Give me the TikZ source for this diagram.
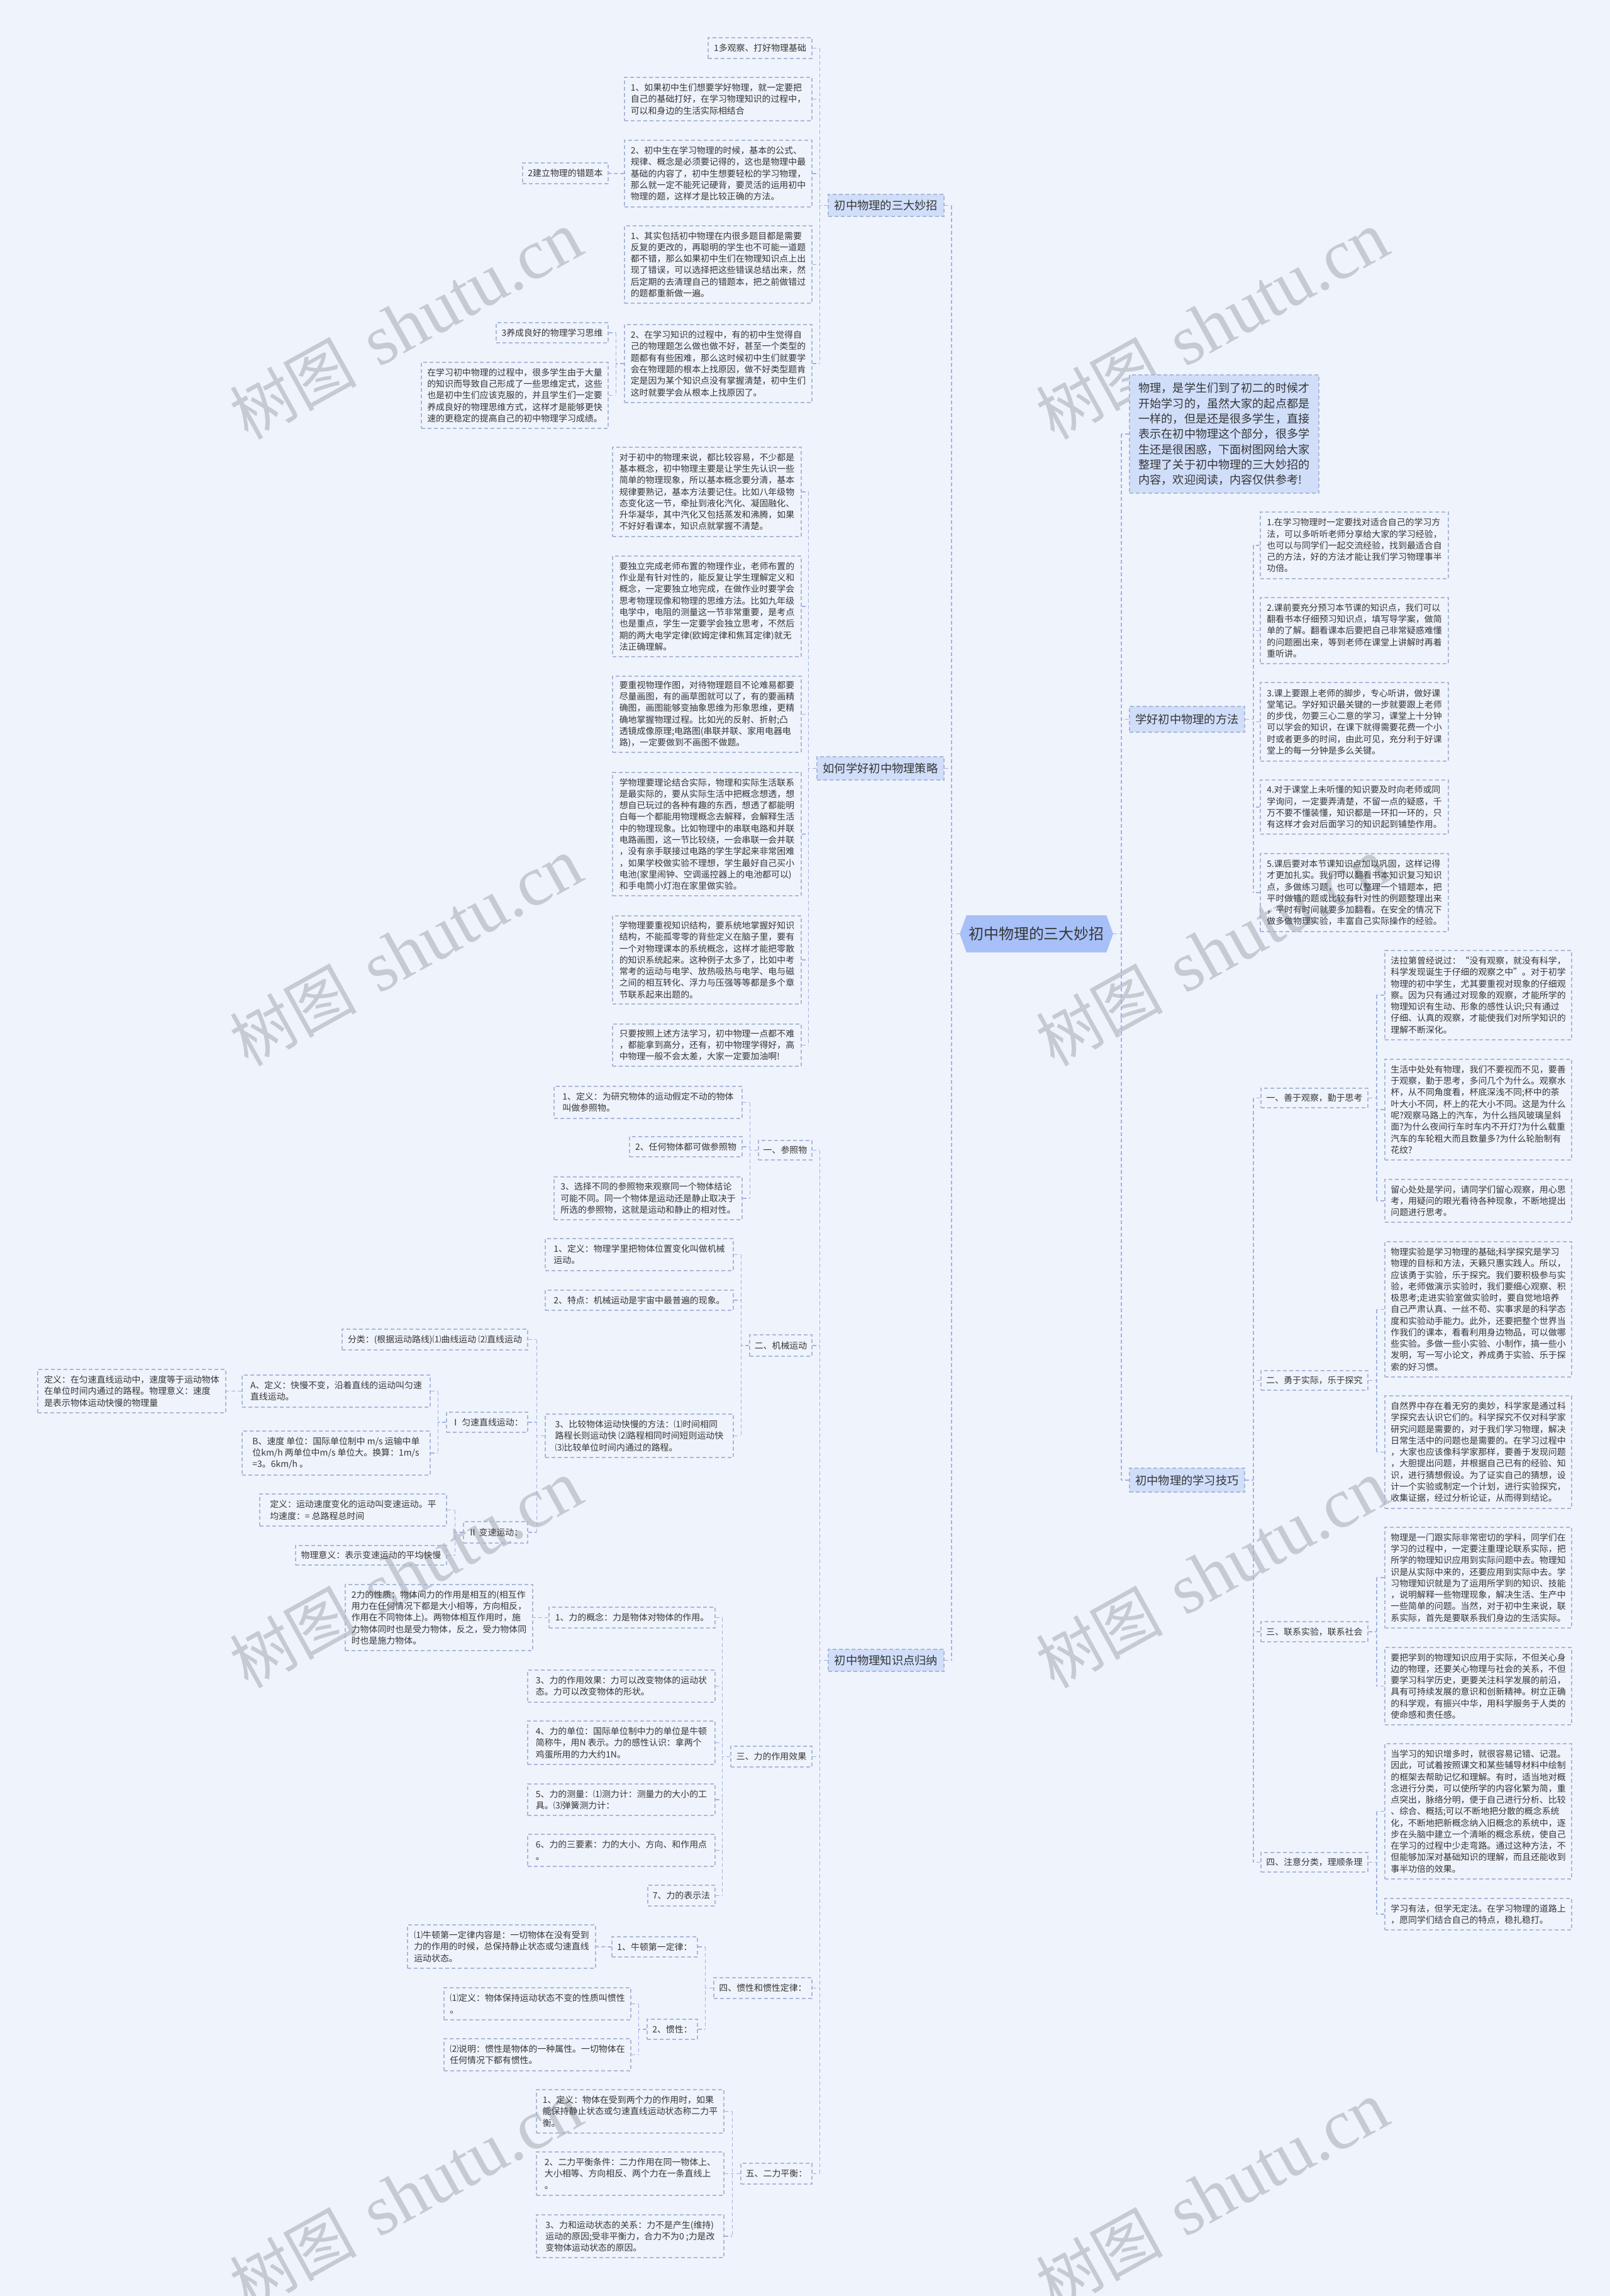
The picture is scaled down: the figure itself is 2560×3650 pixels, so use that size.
\documentclass[tikz,border=0pt]{standalone}
\usepackage{fontspec}
\newfontfamily\cjk{Noto Sans CJK SC}
\newfontfamily\wmserif{Liberation Serif}
\usetikzlibrary{shapes.symbols}

\definecolor{bgcol}{HTML}{EFF3FC}
\definecolor{boxline}{HTML}{AAB8D8}
\definecolor{linkcol}{HTML}{A0B3E6}
\definecolor{branchfill}{HTML}{D0DEFA}
\definecolor{rootfill}{HTML}{A8C0F8}
\definecolor{ink}{HTML}{363636}
\definecolor{wmgray}{HTML}{C6CAD2}

\tikzset{
  cell/.style n args={4}{at={({(#1+#3)/2},{(#2+#4)/2})},
    minimum width={(#3-#1)*0.25mm}, minimum height={(#4-#2)*0.25mm}},
  leaf/.style={draw=boxline, line width=0.3mm, dash pattern=on 1.5mm off 1mm,
    align=left, inner xsep=1.6mm, inner ysep=0.8mm, text=ink,
    font=\cjk\fontsize{9.9}{13}\selectfont},
  branch/.style={leaf, fill=branchfill, font=\cjk\fontsize{13}{16}\selectfont},
  intro/.style={leaf, fill=branchfill, font=\cjk\fontsize{12.9}{17.3}\selectfont},
  root/.style={signal, signal to=west and east, signal pointer angle=140,
    fill=rootfill, text=ink, inner sep=0pt, font=\cjk\fontsize{17}{20}\selectfont},
  link/.style={draw=linkcol, line width=0.45mm, dash pattern=on 1.5mm off 1mm},
  wm/.style={text=wmgray, rotate=29, inner sep=0pt}
}

\begin{document}
\begin{tikzpicture}[x=0.25mm, y=-0.25mm]
    \useasboundingbox (0,0) rectangle (2560,3650);
    \fill[bgcol] (0,0) rectangle (2560,3650);

    % Watermarks
    \foreach \wx/\wy [count=\i] in {645/517, 1927/517, 645/1513, 1927/1513,
                                    645/2502, 1927/2502, 645/3490, 1927/3490} {
        \node[wm] (wm\i) at (\wx,\wy) {{\cjk\fontsize{72}{74}\selectfont 树图}\hspace{9mm}{\wmserif\fontsize{80}{82}\selectfont shutu.cn}};
    }

    % Root
    \node[root, cell={1526}{1455}{1770}{1514}] (root) {初中物理的三大妙招};

    % Branch: 初中物理的三大妙招
    \node[branch, cell={1317}{309}{1501}{344}] (bA) {初中物理的三大妙招};
    \node[leaf, cell={1126}{60}{1291}{93}] (a1) {1多观察、打好物理基础};
    \node[leaf, cell={993}{123}{1291}{192}] (a2) {1、如果初中生们想要学好物理，就一定要把\\自己的基础打好，在学习物理知识的过程中，\\可以和身边的生活实际相结合};
    \node[leaf, cell={993}{223}{1291}{329}] (a3) {2、初中生在学习物理的时候，基本的公式、\\规律、概念是必须要记得的，这也是物理中最\\基础的内容了，初中生想要轻松的学习物理，\\那么就一定不能死记硬背，要灵活的运用初中\\物理的题，这样才是比较正确的方法。};
    \node[leaf, cell={831}{259}{967}{292}] (a31) {2建立物理的错题本};
    \node[leaf, cell={993}{359}{1291}{482}] (a4) {1、其实包括初中物理在内很多题目都是需要\\反复的更改的，再聪明的学生也不可能一道题\\都不错，那么如果初中生们在物理知识点上出\\现了错误，可以选择把这些错误总结出来，然\\后定期的去清理自己的错题本，把之前做错过\\的题都重新做一遍。};
    \node[leaf, cell={993}{516}{1291}{640}] (a5) {2、在学习知识的过程中，有的初中生觉得自\\己的物理题怎么做也做不好，甚至一个类型的\\题都有有些困难，那么这时候初中生们就要学\\会在物理题的根本上找原因，做不好类型题肯\\定是因为某个知识点没有掌握清楚，初中生们\\这时就要学会从根本上找原因了。};
    \node[leaf, cell={789}{513}{967}{545}] (a51) {3养成良好的物理学习思维};
    \node[leaf, cell={670}{576}{967}{681}] (a52) {在学习初中物理的过程中，很多学生由于大量\\的知识而导致自己形成了一些思维定式，这些\\也是初中生们应该克服的，并且学生们一定要\\养成良好的物理思维方式，这样才是能够更快\\速的更稳定的提高自己的初中物理学习成绩。};

    % Branch: 如何学好初中物理策略
    \node[branch, cell={1299}{1203}{1501}{1240}] (bB) {如何学好初中物理策略};
    \node[leaf, cell={974}{711}{1274}{853}] (b1) {对于初中的物理来说，都比较容易，不少都是\\基本概念，初中物理主要是让学生先认识一些\\简单的物理现象，所以基本概念要分清，基本\\规律要熟记，基本方法要记住。比如八年级物\\态变化这一节，牵扯到液化汽化、凝固融化、\\升华凝华，其中汽化又包括蒸发和沸腾，如果\\不好好看课本，知识点就掌握不清楚。};
    \node[leaf, cell={974}{884}{1274}{1044}] (b2) {要独立完成老师布置的物理作业，老师布置的\\作业是有针对性的，能反复让学生理解定义和\\概念，一定要独立地完成，在做作业时要学会\\思考物理现像和物理的思维方法。比如九年级\\电学中，电阻的测量这一节非常重要，是考点\\也是重点，学生一定要学会独立思考，不然后\\期的两大电学定律(欧姆定律和焦耳定律)就无\\法正确理解。};
    \node[leaf, cell={974}{1075}{1274}{1196}] (b3) {要重视物理作图，对待物理题目不论难易都要\\尽量画图，有的画草图就可以了，有的要画精\\确图，画图能够变抽象思维为形象思维，更精\\确地掌握物理过程。比如光的反射、折射;凸\\透镜成像原理;电路图(串联并联、家用电器电\\路)，一定要做到不画图不做题。};
    \node[leaf, cell={974}{1228}{1274}{1424}] (b4) {学物理要理论结合实际，物理和实际生活联系\\是最实际的，要从实际生活中把概念想透，想\\想自已玩过的各种有趣的东西，想透了都能明\\白每一个都能用物理概念去解释，会解释生活\\中的物理现象。比如物理中的串联电路和并联\\电路画图，这一节比较绕，一会串联一会并联\\，没有亲手联接过电路的学生学起来非常困难\\，如果学校做实验不理想，学生最好自己买小\\电池(家里闹钟、空调遥控器上的电池都可以)\\和手电筒小灯泡在家里做实验。};
    \node[leaf, cell={974}{1456}{1274}{1596}] (b5) {学物理要重视知识结构，要系统地掌握好知识\\结构，不能孤零零的背些定义在脑子里，要有\\一个对物理课本的系统概念，这样才能把零散\\的知识系统起来。这种例子太多了，比如中考\\常考的运动与电学、放热吸热与电学、电与磁\\之间的相互转化、浮力与压强等等都是多个章\\节联系起来出题的。};
    \node[leaf, cell={974}{1628}{1274}{1695}] (b6) {只要按照上述方法学习，初中物理一点都不难\\，都能拿到高分，还有，初中物理学得好，高\\中物理一般不会太差，大家一定要加油啊!};

    % Branch: 初中物理知识点归纳
    \node[branch, cell={1317}{2622}{1501}{2657}] (bC) {初中物理知识点归纳};
    \node[leaf, cell={1206}{1813}{1291}{1844}] (c1) {一、参照物};
    \node[leaf, cell={881}{1727}{1180}{1778}] (c11) {1、定义：为研究物体的运动假定不动的物体\\叫做参照物。};
    \node[leaf, cell={1001}{1807}{1180}{1839}] (c12) {2、任何物体都可做参照物};
    \node[leaf, cell={881}{1871}{1180}{1939}] (c13) {3、选择不同的参照物来观察同一个物体结论\\可能不同。同一个物体是运动还是静止取决于\\所选的参照物，这就是运动和静止的相对性。};
    \node[leaf, cell={1192}{2122}{1291}{2156}] (c2) {二、机械运动};
    \node[leaf, cell={867}{1969}{1166}{2020}] (c21) {1、定义：物理学里把物体位置变化叫做机械\\运动。};
    \node[leaf, cell={867}{2051}{1166}{2083}] (c22) {2、特点：机械运动是宇宙中最普遍的现象。};
    \node[leaf, cell={867}{2248}{1166}{2317}] (c23) {3、比较物体运动快慢的方法：⑴时间相同\\路程长则运动快 ⑵路程相同时间短则运动快\\⑶比较单位时间内通过的路程。};
    \node[leaf, cell={544}{2113}{839}{2146}] (c231) {分类：(根据运动路线)⑴曲线运动 ⑵直线运动};
    \node[leaf, cell={710}{2245}{839}{2277}] (c232) {Ⅰ 匀速直线运动：};
    \node[leaf, cell={385}{2186}{684}{2237}] (speedA) {A、定义：快慢不变，沿着直线的运动叫匀速\\直线运动。};
    \node[leaf, cell={60}{2177}{359}{2246}] (speedDef) {定义：在匀速直线运动中，速度等于运动物体\\在单位时间内通过的路程。物理意义：速度\\是表示物体运动快慢的物理量};
    \node[leaf, cell={385}{2275}{684}{2345}] (speedB) {B、速度 单位：国际单位制中 m/s 运输中单\\位km/h 两单位中m/s 单位大。换算：1m/s\\=3。6km/h 。};
    \node[leaf, cell={737}{2419}{839}{2453}] (c233) {Ⅱ 变速运动：};
    \node[leaf, cell={413}{2375}{710}{2426}] (varDef) {定义：运动速度变化的运动叫变速运动。平\\均速度：= 总路程总时间};
    \node[leaf, cell={470}{2457}{710}{2488}] (varMean) {物理意义：表示变速运动的平均快慢};
    \node[leaf, cell={1162}{2776}{1291}{2809}] (c3) {三、力的作用效果};
    \node[leaf, cell={873}{2555}{1137}{2588}] (f1) {1、力的概念：力是物体对物体的作用。};
    \node[leaf, cell={549}{2519}{847}{2624}] (f2) {2力的性质：物体间力的作用是相互的(相互作\\用力在任何情况下都是大小相等，方向相反，\\作用在不同物体上)。两物体相互作用时，施\\力物体同时也是受力物体，反之，受力物体同\\时也是施力物体。};
    \node[leaf, cell={839}{2655}{1137}{2706}] (f3) {3、力的作用效果：力可以改变物体的运动状\\态。力可以改变物体的形状。};
    \node[leaf, cell={839}{2736}{1137}{2805}] (f4) {4、力的单位：国际单位制中力的单位是牛顿\\简称牛，用N 表示。力的感性认识：拿两个\\鸡蛋所用的力大约1N。};
    \node[leaf, cell={839}{2836}{1137}{2886}] (f5) {5、力的测量：⑴测力计：测量力的大小的工\\具。⑶弹簧测力计：};
    \node[leaf, cell={839}{2916}{1137}{2967}] (f6) {6、力的三要素：力的大小、方向、和作用点\\。};
    \node[leaf, cell={1030}{2997}{1137}{3030}] (f7) {7、力的表示法};
    \node[leaf, cell={1135}{3144}{1291}{3177}] (c4) {四、惯性和惯性定律：};
    \node[leaf, cell={973}{3079}{1109}{3111}] (c41) {1、牛顿第一定律：};
    \node[leaf, cell={648}{3060}{947}{3129}] (c411) {⑴牛顿第一定律内容是：一切物体在没有受到\\力的作用的时候，总保持静止状态或匀速直线\\运动状态。};
    \node[leaf, cell={1029}{3210}{1109}{3242}] (c42) {2、惯性：};
    \node[leaf, cell={706}{3160}{1003}{3211}] (c421) {⑴定义：物体保持运动状态不变的性质叫惯性\\。};
    \node[leaf, cell={706}{3241}{1003}{3292}] (c422) {⑵说明：惯性是物体的一种属性。一切物体在\\任何情况下都有惯性。};
    \node[leaf, cell={1178}{3439}{1291}{3472}] (c5) {五、二力平衡：};
    \node[leaf, cell={853}{3322}{1151}{3391}] (c51) {1、定义：物体在受到两个力的作用时，如果\\能保持静止状态或匀速直线运动状态称二力平\\衡。};
    \node[leaf, cell={853}{3421}{1151}{3490}] (c52) {2、二力平衡条件：二力作用在同一物体上、\\大小相等、方向相反、两个力在一条直线上\\。};
    \node[leaf, cell={853}{3521}{1151}{3589}] (c53) {3、力和运动状态的关系：力不是产生(维持)\\运动的原因;受非平衡力，合力不为0 ;力是改\\变物体运动状态的原因。};

    % Right side
    \node[intro, cell={1796}{596}{2097}{784}] (intro) {物理，是学生们到了初二的时候才\\开始学习的，虽然大家的起点都是\\一样的，但是还是很多学生，直接\\表示在初中物理这个部分，很多学\\生还是很困惑，下面树图网给大家\\整理了关于初中物理的三大妙招的\\内容，欢迎阅读，内容仅供参考!};

    \node[branch, cell={1796}{1123}{1979}{1164}] (bD) {学好初中物理的方法};
    \node[leaf, cell={2004}{814}{2303}{920}] (d1) {1.在学习物理时一定要找对适合自己的学习方\\法，可以多听听老师分享给大家的学习经验，\\也可以与同学们一起交流经验，找到最适合自\\己的方法，好的方法才能让我们学习物理事半\\功倍。};
    \node[leaf, cell={2004}{950}{2303}{1055}] (d2) {2.课前要充分预习本节课的知识点，我们可以\\翻看书本仔细预习知识点，填写导学案，做简\\单的了解。翻看课本后要把自己非常疑惑难懂\\的问题圈出来，等到老师在课堂上讲解时再着\\重听讲。};
    \node[leaf, cell={2004}{1085}{2303}{1210}] (d3) {3.课上要跟上老师的脚步，专心听讲，做好课\\堂笔记。学好知识最关键的一步就要跟上老师\\的步伐，勿要三心二意的学习，课堂上十分钟\\可以学会的知识，在课下就得需要花费一个小\\时或者更多的时间，由此可见，充分利于好课\\堂上的每一分钟是多么关键。};
    \node[leaf, cell={2004}{1240}{2303}{1326}] (d4) {4.对于课堂上未听懂的知识要及时向老师或同\\学询问，一定要弄清楚，不留一点的疑惑，千\\万不要不懂装懂，知识都是一环扣一环的，只\\有这样才会对后面学习的知识起到铺垫作用。};
    \node[leaf, cell={2004}{1357}{2303}{1481}] (d5) {5.课后要对本节课知识点加以巩固，这样记得\\才更加扎实。我们可以翻看书本知识复习知识\\点，多做练习题，也可以整理一个错题本，把\\平时做错的题或比较有针对性的例题整理出来\\，平时有时间就要多加翻看。在安全的情况下\\做多做物理实验，丰富自己实际操作的经验。};

    \node[branch, cell={1796}{2334}{1979}{2372}] (bE) {初中物理的学习技巧};
    \node[leaf, cell={2005}{1730}{2175}{1761}] (e1) {一、善于观察，勤于思考};
    \node[leaf, cell={2202}{1511}{2499}{1653}] (e11) {法拉第曾经说过：“没有观察，就没有科学，\\科学发现诞生于仔细的观察之中”。对于初学\\物理的初中学生，尤其要重视对现象的仔细观\\察。因为只有通过对现象的观察，才能所学的\\物理知识有生动、形象的感性认识;只有通过\\仔细、认真的观察，才能使我们对所学知识的\\理解不断深化。};
    \node[leaf, cell={2202}{1684}{2499}{1844}] (e12) {生活中处处有物理，我们不要视而不见，要善\\于观察，勤于思考，多问几个为什么。观察水\\杯，从不同角度看，杯底深浅不同;杯中的茶\\叶大小不同，杯上的花大小不同。这是为什么\\呢?观察马路上的汽车，为什么挡风玻璃呈斜\\面?为什么夜间行车时车内不开灯?为什么载重\\汽车的车轮粗大而且数量多?为什么轮胎制有\\花纹?};
    \node[leaf, cell={2202}{1875}{2499}{1943}] (e13) {留心处处是学问，请同学们留心观察，用心思\\考，用疑问的眼光看待各种现象，不断地提出\\问题进行思考。};
    \node[leaf, cell={2005}{2179}{2175}{2210}] (e2) {二、勇于实际，乐于探究};
    \node[leaf, cell={2202}{1974}{2499}{2189}] (e21) {物理实验是学习物理的基础;科学探究是学习\\物理的目标和方法，天籁只惠实践人。所以，\\应该勇于实验，乐于探究。我们要积极参与实\\验，老师做演示实验时，我们要细心观察、积\\极思考;走进实验室做实验时，要自觉地培养\\自己严肃认真、一丝不苟、实事求是的科学态\\度和实验动手能力。此外，还要把整个世界当\\作我们的课本，看看利用身边物品，可以做哪\\些实验。多做一些小实验、小制作，搞一些小\\发明，写一写小论文，养成勇于实验、乐于探\\索的好习惯。};
    \node[leaf, cell={2202}{2219}{2499}{2398}] (e22) {自然界中存在着无穷的奥妙，科学家是通过科\\学探究去认识它们的。科学探究不仅对科学家\\研究问题是需要的，对于我们学习物理，解决\\日常生活中的问题也是需要的。在学习过程中\\，大家也应该像科学家那样，要善于发现问题\\，大胆提出问题，并根据自己已有的经验、知\\识，进行猜想假设。为了证实自己的猜想，设\\计一个实验或制定一个计划，进行实验探究，\\收集证据，经过分析论证，从而得到结论。};
    \node[leaf, cell={2005}{2578}{2175}{2610}] (e3) {三、联系实验，联系社会};
    \node[leaf, cell={2202}{2428}{2499}{2588}] (e31) {物理是一门跟实际非常密切的学科，同学们在\\学习的过程中，一定要注重理论联系实际，把\\所学的物理知识应用到实际问题中去。物理知\\识是从实际中来的，还要应用到实际中去。学\\习物理知识就是为了运用所学到的知识、技能\\，说明解释一些物理现象，解决生活、生产中\\一些简单的问题。当然，对于初中生来说，联\\系实际，首先是要联系我们身边的生活实际。};
    \node[leaf, cell={2202}{2619}{2499}{2742}] (e32) {要把学到的物理知识应用于实际，不但关心身\\边的物理，还要关心物理与社会的关系，不但\\要学习科学历史，更要关注科学发展的前沿，\\具有可持续发展的意识和创新精神。树立正确\\的科学观，有振兴中华，用科学服务于人类的\\使命感和责任感。};
    \node[leaf, cell={2005}{2945}{2175}{2976}] (e4) {四、注意分类，理顺条理};
    \node[leaf, cell={2202}{2772}{2499}{2987}] (e41) {当学习的知识增多时，就很容易记错、记混。\\因此，可试着按照课文和某些辅导材料中绘制\\的框架去帮助记忆和理解。有时，适当地对概\\念进行分类，可以使所学的内容化繁为简，重\\点突出，脉络分明，便于自己进行分析、比较\\、综合、概括;可以不断地把分散的概念系统\\化，不断地把新概念纳入旧概念的系统中，逐\\步在头脑中建立一个清晰的概念系统，使自己\\在学习的过程中少走弯路。通过这种方法，不\\但能够加深对基础知识的理解，而且还能收到\\事半功倍的效果。};
    \node[leaf, cell={2202}{3018}{2499}{3068}] (e42) {学习有法，但学无定法。在学习物理的道路上\\，愿同学们结合自己的特点，稳扎稳打。};

    % Connectors, left side (parent -> trunk -> children)
    \foreach \p/\first/\last/\kids in {root/bA/bC/{bA,bB,bC}, bA/a1/a5/{a1,a2,a3,a4,a5},
            a5/a51/a52/{a51,a52}, bB/b1/b6/{b1,b2,b3,b4,b5,b6},
            bC/c1/c5/{c1,c2,c3,c4,c5}, c1/c11/c13/{c11,c12,c13},
            c2/c21/c23/{c21,c22,c23}, c23/c231/c233/{c231,c232,c233},
            c232/speedA/speedB/{speedA,speedB}, c233/varDef/varMean/{varDef,varMean},
            c3/f1/f7/{f1,f3,f4,f5,f6,f7}, c4/c41/c42/{c41,c42},
            c42/c421/c422/{c421,c422}, c5/c51/c53/{c51,c52,c53}} {
        \draw[link] (\p.west) -- ++(-13,0) coordinate (T);
        \draw[link] (\first.east -| T) -- (\last.east -| T);
        \foreach \k in \kids
            \draw[link] (\k.east) -- (\k.east -| T);
    }
    \draw[link] (a3.west) -- (a31.east);
    \draw[link] (speedA.west) -- (speedDef.east);
    \draw[link] (f1.west) -- (f2.east);
    \draw[link] (c41.west) -- (c411.east);

    % Connectors, right side
    \foreach \p/\first/\last/\kids in {root/intro/bE/{intro,bD,bE}, bD/d1/d5/{d1,d2,d3,d4,d5},
            bE/e1/e4/{e1,e2,e3,e4}, e1/e11/e13/{e11,e12,e13}, e2/e21/e22/{e21,e22},
            e3/e31/e32/{e31,e32}, e4/e41/e42/{e41,e42}} {
        \draw[link] (\p.east) -- ++(13,0) coordinate (T);
        \draw[link] (\first.west -| T) -- (\last.west -| T);
        \foreach \k in \kids
            \draw[link] (\k.west) -- (\k.west -| T);
    }
\end{tikzpicture}
\end{document}
